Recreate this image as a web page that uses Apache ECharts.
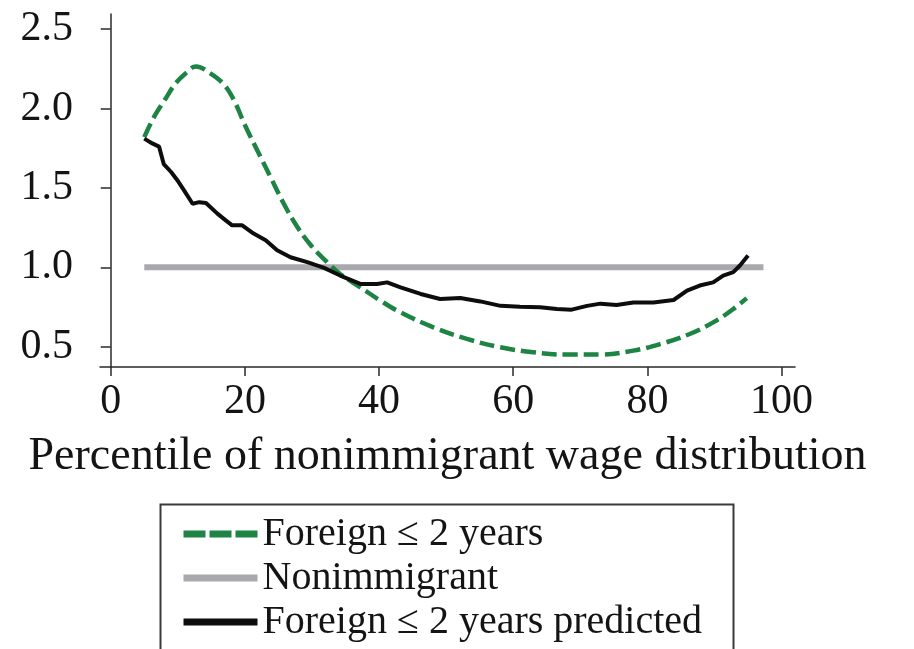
<!DOCTYPE html>
<html>
<head>
<meta charset="utf-8">
<script src="https://cdn.jsdelivr.net/npm/echarts@6/dist/echarts.min.js"></script>
<style>
  html, body { margin: 0; padding: 0; background: #fff; }
  #chart { width: 914px; height: 649px; }
</style>
</head>
<body>
<div id="chart"></div>
<script>
// tick labels
var xTicks = [0, 20, 40, 60, 80, 100];
var yTicks = [0.5, 1.0, 1.5, 2.0, 2.5];

// Foreign <= 2 years (green dashed)
var greenX = [5, 6.5, 8, 9.7, 11.4, 12.7, 14.9, 16.9, 18.4, 19.9, 21.8, 23.8, 25.8, 27.8, 29.8, 32.3, 34.2, 37.2, 40.2, 43.2, 48.1, 53.1, 58.1, 63, 68, 73, 77.9, 81.9, 86.3, 89.8, 92.8, 94.8];
var greenY = [1.82, 1.95, 2.05, 2.16, 2.23, 2.265, 2.22, 2.15, 2.05, 1.905, 1.74, 1.57, 1.40, 1.255, 1.14, 1.03, 0.958, 0.874, 0.79, 0.716, 0.622, 0.549, 0.496, 0.465, 0.45, 0.45, 0.475, 0.516, 0.58, 0.653, 0.737, 0.806];

// Nonimmigrant (gray reference)
var grayX = [5, 97.3];
var grayY = [1.0, 1.0];

// Foreign <= 2 years predicted (black)
var blackX = [5, 6.2, 7.2, 7.9, 9, 9.9, 11, 12.2, 13.2, 14.2, 15.9, 17, 18.1, 19.6, 21.3, 23.1, 24.8, 26.8, 29.3, 31.8, 34.2, 37.2, 39.7, 41.2, 43.2, 46.2, 49.1, 52.1, 55.1, 58.1, 61, 64, 66.5, 68.7, 71, 73, 75.4, 77.9, 80.9, 83.9, 85.9, 87.8, 89.8, 91.3, 92.8, 93.8, 95];
var blackY = [1.81, 1.78, 1.76, 1.65, 1.6, 1.55, 1.48, 1.40, 1.41, 1.405, 1.338, 1.30, 1.264, 1.264, 1.212, 1.17, 1.107, 1.063, 1.032, 0.996, 0.948, 0.895, 0.895, 0.905, 0.874, 0.832, 0.80, 0.806, 0.785, 0.757, 0.751, 0.748, 0.737, 0.733, 0.757, 0.771, 0.763, 0.778, 0.778, 0.794, 0.853, 0.885, 0.905, 0.948, 0.969, 1.011, 1.074];

function pairs(xs, ys) {
  return xs.map(function (x, i) { return [x, ys[i]]; });
}

var serif = "'Liberation Serif', 'DejaVu Serif', serif";
var ink = "#141414";

var myChart = echarts.init(document.getElementById("chart"));

var option = {
  animation: false,
  backgroundColor: "#fff",
  grid: {
    left: 100,
    right: 119,
    top: 14,
    bottom: 282,
    containLabel: false,
    outerBoundsMode: "none"
  },
  xAxis: {
    type: "value",
    min: -1.6,
    max: 102,
    name: "Percentile of nonimmigrant wage distribution",
    nameLocation: "middle",
    nameGap: 67,
    nameTextStyle: { fontFamily: serif, fontSize: 46, color: ink },
    splitLine: { show: false },
    axisLine: { lineStyle: { color: "#2a2a2a", width: 1.5 } },
    axisTick: { length: 9, lineStyle: { color: "#2a2a2a", width: 1.5 }, customValues: xTicks },
    axisLabel: {
      customValues: xTicks,
      margin: 14,
      fontFamily: serif,
      fontSize: 42,
      color: ink
    }
  },
  yAxis: {
    type: "value",
    min: 0.372,
    max: 2.595,
    splitLine: { show: false },
    axisLine: { show: true, lineStyle: { color: "#2a2a2a", width: 1.5 } },
    axisTick: { show: true, length: 10, lineStyle: { color: "#2a2a2a", width: 1.5 }, customValues: yTicks },
    axisLabel: {
      customValues: yTicks,
      margin: 27,
      fontFamily: serif,
      fontSize: 42,
      color: ink,
      formatter: function (v) { return v.toFixed(1); }
    }
  },
  legend: {
    orient: "vertical",
    left: 180,
    top: 512,
    padding: 0,
    itemGap: 0,
    itemWidth: 74,
    itemHeight: 14,
    itemStyle: { opacity: 0 },
    textStyle: { fontFamily: serif, fontSize: 40, color: ink, lineHeight: 44 },
    data: [
      { name: "Foreign \u2264 2 years", lineStyle: { width: 7, type: [22, 4] } },
      { name: "Nonimmigrant", lineStyle: { width: 7 } },
      { name: "Foreign \u2264 2 years predicted", lineStyle: { width: 7 } }
    ]
  },
  graphic: [
    {
      type: "rect",
      left: 158,
      top: 502,
      shape: { width: 573, height: 200 },
      style: { fill: "none", stroke: "#3a3a3a", lineWidth: 2 },
      silent: true
    }
  ],
  series: [
    {
      name: "Nonimmigrant",
      type: "line",
      data: pairs(grayX, grayY),
      symbol: "none",
      color: "#a9a9ad",
      lineStyle: { color: "#a9a9ad", width: 6, cap: "butt" },
      z: 1
    },
    {
      name: "Foreign \u2264 2 years",
      type: "line",
      data: pairs(greenX, greenY),
      symbol: "none",
      smooth: 0.4,
      color: "#1d8444",
      lineStyle: { color: "#1d8444", width: 4.5, type: [15, 6] },
      z: 2
    },
    {
      name: "Foreign \u2264 2 years predicted",
      type: "line",
      data: pairs(blackX, blackY),
      symbol: "none",
      color: "#0d0d0d",
      lineStyle: { color: "#0d0d0d", width: 4 },
      z: 3
    }
  ]
};

myChart.setOption(option);
</script>
</body>
</html>
